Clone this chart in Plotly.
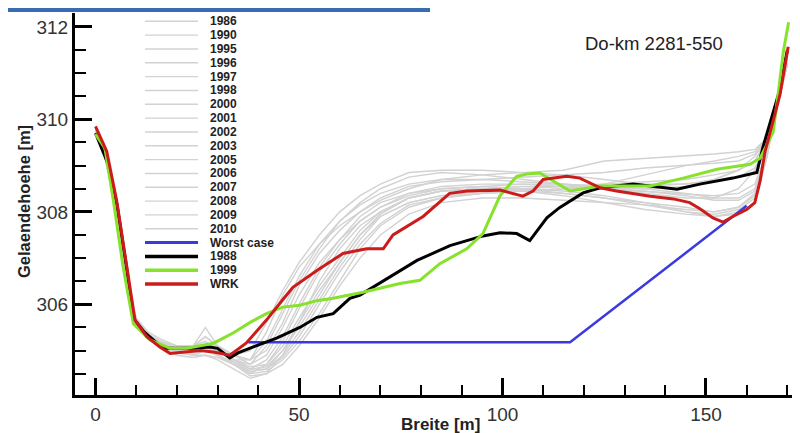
import plotly.graph_objects as go

# ---------------- data ----------------
GREY_X = [0, 2, 4, 6, 8, 10, 13, 16, 20, 24, 27, 30, 34, 38, 42, 46, 50, 55, 60, 65, 70, 77,
          85, 95, 105, 115, 125, 135, 145, 152, 158, 162, 165, 167, 170]

Y_1986 = [309.8, 309.4, 308.6, 307.5, 306.3, 305.6, 305.3, 305.15, 305.0, 305.05, 305.1, 305.0, 304.9, 305.0,
          305.6, 306.3, 306.9, 307.5, 308.0, 308.35, 308.6, 308.85, 308.9, 308.9, 308.85, 308.8, 308.7,
          308.6, 308.6, 308.7, 308.9, 309.1, 309.6, 310.3, 311.3]
Y_1990 = [309.7, 309.3, 308.5, 307.4, 306.2, 305.6, 305.35, 305.2, 305.0, 305.1, 305.5, 305.1, 304.8, 304.7,
          305.1, 305.8, 306.5, 307.2, 307.8, 308.2, 308.5, 308.75, 308.85, 308.8, 308.7, 308.6, 308.5,
          308.4, 308.3, 308.3, 308.5, 308.9, 309.5, 310.2, 311.2]
Y_1995 = [309.75, 309.35, 308.6, 307.5, 306.3, 305.65, 305.3, 305.15, 305.05, 305.0, 305.0, 304.9, 304.7, 304.5,
          304.7, 305.2, 305.9, 306.7, 307.3, 307.8, 308.1, 308.4, 308.55, 308.6, 308.6, 308.55, 308.5,
          308.5, 308.55, 308.7, 308.9, 309.2, 309.6, 310.2, 311.2]
Y_1996 = [309.8, 309.4, 308.7, 307.6, 306.4, 305.7, 305.35, 305.2, 305.0, 305.0, 305.1, 305.0, 304.8, 304.6,
          304.6, 304.9, 305.4, 306.1, 306.8, 307.4, 307.9, 308.2, 308.35, 308.4, 308.45, 308.5, 308.6,
          308.8, 309.0, 309.1, 309.2, 309.3, 309.6, 310.2, 311.2]
Y_1997 = [309.7, 309.3, 308.5, 307.4, 306.2, 305.6, 305.3, 305.2, 305.1, 305.1, 305.2, 305.0, 304.8, 304.8,
          305.4, 306.2, 306.8, 307.3, 307.7, 308.0, 308.25, 308.5, 308.7, 308.8, 308.85, 308.9, 309.1,
          309.15, 309.2, 309.25, 309.3, 309.35, 309.6, 310.2, 311.2]
Y_1998 = [309.75, 309.35, 308.6, 307.5, 306.3, 305.6, 305.25, 305.1, 305.0, 304.9, 304.9, 304.8, 304.6, 304.4,
          304.5, 304.9, 305.6, 306.5, 307.2, 307.7, 308.0, 308.3, 308.45, 308.5, 308.5, 308.4, 308.3,
          308.2, 308.1, 308.0, 308.1, 308.4, 309.3, 310.1, 311.2]
Y_2000 = [309.8, 309.4, 308.7, 307.6, 306.4, 305.65, 305.3, 305.15, 305.0, 305.05, 305.15, 305.1, 304.9, 304.7,
          304.9, 305.5, 306.2, 306.9, 307.4, 307.8, 308.1, 308.35, 308.5, 308.55, 308.5, 308.45, 308.35,
          308.2, 308.0, 307.9, 308.0, 308.2, 309.2, 310.1, 311.2]
Y_2001 = [309.7, 309.3, 308.55, 307.45, 306.25, 305.55, 305.25, 305.1, 304.95, 304.9, 305.0, 304.9, 304.7, 304.5,
          304.55, 304.8, 305.2, 305.8, 306.5, 307.2, 307.7, 308.1, 308.3, 308.4, 308.45, 308.4, 308.3,
          308.15, 308.0, 307.95, 308.05, 308.3, 309.3, 310.1, 311.2]
Y_2002 = [309.75, 309.35, 308.6, 307.5, 306.3, 305.65, 305.35, 305.2, 305.05, 305.1, 305.3, 305.1, 304.9, 304.8,
          305.2, 305.9, 306.6, 307.3, 307.8, 308.15, 308.4, 308.6, 308.7, 308.7, 308.75, 308.8, 308.85,
          308.95, 309.0, 309.05, 309.1, 309.25, 309.6, 310.2, 311.2]
Y_2003 = [309.8, 309.4, 308.65, 307.55, 306.35, 305.6, 305.25, 305.05, 304.9, 304.85, 304.9, 304.85, 304.7, 304.55,
          304.6, 305.0, 305.6, 306.3, 306.9, 307.5, 307.9, 308.2, 308.35, 308.45, 308.5, 308.55, 308.6,
          308.65, 308.7, 308.8, 308.9, 309.1, 309.5, 310.2, 311.2]
Y_2005 = [309.75, 309.35, 308.6, 307.5, 306.3, 305.6, 305.3, 305.15, 305.0, 305.0, 305.05, 305.0, 304.75, 304.6,
          304.8, 305.3, 306.0, 306.8, 307.4, 307.9, 308.2, 308.4, 308.5, 308.55, 308.6, 308.6, 308.55,
          308.5, 308.4, 308.3, 308.3, 308.5, 309.3, 310.1, 311.2]
Y_2006 = [309.7, 309.3, 308.55, 307.45, 306.3, 305.6, 305.3, 305.15, 305.05, 305.05, 305.1, 305.0, 304.8, 304.6,
          304.65, 305.0, 305.5, 306.2, 306.9, 307.5, 307.95, 308.3, 308.45, 308.5, 308.45, 308.35, 308.2,
          308.05, 307.95, 307.9, 307.95, 308.2, 309.2, 310.1, 311.2]
Y_2007 = [309.8, 309.35, 308.6, 307.5, 306.3, 305.55, 305.25, 305.1, 305.0, 304.95, 305.0, 304.9, 304.7, 304.45,
          304.5, 304.7, 305.1, 305.7, 306.4, 307.0, 307.5, 307.95, 308.2, 308.3, 308.3, 308.25, 308.2,
          308.15, 308.05, 308.0, 308.1, 308.35, 309.2, 310.1, 311.2]
Y_2008 = [309.75, 309.35, 308.65, 307.55, 306.35, 305.7, 305.4, 305.25, 305.1, 305.1, 305.3, 305.1, 304.9, 304.8,
          305.0, 305.6, 306.4, 307.1, 307.6, 308.0, 308.3, 308.55, 308.65, 308.7, 308.65, 308.6, 308.55,
          308.55, 308.6, 308.65, 308.75, 308.95, 309.4, 310.2, 311.2]
Y_2009 = [309.7, 309.3, 308.55, 307.45, 306.25, 305.55, 305.25, 305.1, 304.95, 304.95, 305.0, 304.9, 304.75, 304.55,
          304.6, 304.85, 305.3, 306.0, 306.7, 307.3, 307.75, 308.15, 308.3, 308.4, 308.45, 308.5, 308.5,
          308.45, 308.35, 308.25, 308.25, 308.45, 309.3, 310.1, 311.2]
Y_2010 = [309.75, 309.35, 308.6, 307.5, 306.3, 305.6, 305.3, 305.15, 305.0, 305.0, 305.1, 305.0, 304.8, 304.65,
          304.7, 305.1, 305.7, 306.4, 307.0, 307.6, 308.0, 308.3, 308.45, 308.5, 308.55, 308.55, 308.5,
          308.45, 308.4, 308.35, 308.4, 308.6, 309.3, 310.1, 311.2]

WORST_X = [37.5, 116.6, 160.0]
WORST_Y = [305.18, 305.18, 308.13]

B1988_X = [0, 1.1, 3, 5.3, 7.8, 9.3, 12, 16.6, 20, 24, 28.1, 30, 33, 35, 38.8, 44.5, 50.2, 54.4, 58.4,
           62.5, 65, 70.7, 79, 87.1, 95.2, 99.4, 103.5, 106.7, 110.9, 114, 119.8, 124, 132.1, 142.9,
           148.5, 156.6, 162.5, 164, 166, 168, 170]
B1988_Y = [309.7, 309.46, 309.05, 308.15, 306.7, 305.7, 305.4, 305.05, 305.05, 305.05, 305.08, 305.05,
           304.84, 304.95, 305.08, 305.27, 305.5, 305.72, 305.8, 306.13, 306.2, 306.5, 306.95, 307.27,
           307.48, 307.55, 307.53, 307.38, 307.87, 308.09, 308.41, 308.52, 308.6, 308.49, 308.6, 308.73,
           308.85, 309.4, 310.0, 310.6, 311.5]

G1999_X = [0, 2.3, 4.4, 6.8, 9.3, 13.4, 18.3, 22.5, 29, 33.8, 38, 42, 46, 50.2, 54.4, 58.4, 65.7,
           74.8, 79.7, 84.6, 91.2, 95.2, 99.4, 103.5, 106, 109.2, 113.4, 116.6, 124, 136.3, 144.4, 152.7,
           160.8, 163.3, 165, 166.5, 167.5, 169, 170.3]
G1999_Y = [309.68, 309.38, 308.24, 306.8, 305.58, 305.23, 305.05, 305.05, 305.16, 305.38, 305.61, 305.8,
           305.94, 305.98, 306.08, 306.13, 306.26, 306.45, 306.52, 306.88, 307.2, 307.53, 308.35, 308.77,
           308.82, 308.84, 308.62, 308.45, 308.56, 308.56, 308.73, 308.92, 309.03, 309.16, 309.46, 309.72,
           310.39, 311.46, 312.1]

WRK_X = [0, 2.75, 5.2, 7.7, 9.7, 12.6, 15.8, 18.3, 22, 25.7, 29, 33, 37, 42, 46, 48.5, 54.4, 60.8, 66.6,
         70.7, 73.1, 80.5, 87, 91.3, 99.4, 102.6, 105, 107.5, 110, 115.8, 119, 124, 128, 136.3, 142, 146,
         148.6, 151.7, 154.2, 156.6, 160, 162, 163.3, 164.5, 166.5, 168.2, 170.2]
WRK_Y = [309.85, 309.31, 308.24, 306.8, 305.66, 305.3, 305.08, 304.94, 304.97, 305.0, 304.97, 304.9,
         305.16, 305.66, 306.1, 306.37, 306.73, 307.1, 307.2, 307.2, 307.5, 307.9, 308.4, 308.45, 308.47,
         308.4, 308.34, 308.45, 308.7, 308.77, 308.73, 308.52, 308.45, 308.34, 308.28, 308.2, 308.06,
         307.87, 307.78, 307.9, 308.05, 308.2, 308.67, 309.3, 310.0, 310.54, 311.57]

GREY_NAMES = ["1986", "1990", "1995", "1996", "1997", "1998", "2000", "2001", "2002", "2003",
              "2005", "2006", "2007", "2008", "2009", "2010"]
GREY_SERIES = [Y_1986, Y_1990, Y_1995, Y_1996, Y_1997, Y_1998, Y_2000, Y_2001, Y_2002, Y_2003,
               Y_2005, Y_2006, Y_2007, Y_2008, Y_2009, Y_2010]

# ---------------- styling ----------------
FONT = "Liberation Sans, Arial, sans-serif"
GREY = "#d2d2d2"
BLUE = "#3a3ae0"
BLACK = "#000000"
GREEN = "#86e22a"
RED = "#cc1b1b"

# the page body has an 8px margin, so the figure is sized/positioned to compensate
OFF = 8
WIN_W, WIN_H = 800, 433
W, H = WIN_W - OFF, WIN_H - OFF
# plot area in window pixels: left 75, right 800, top 13, bottom 395
ML, MR, MT, MB = 75 - OFF, 0, 13 - OFF, WIN_H - 395
PW, PH = W - ML - MR, H - MT - MB


def px2paper(px, py):
    """window pixel -> paper coordinates"""
    return (px - OFF - ML) / PW, (H - MB - (py - OFF)) / PH


fig = go.Figure()

for name, ys in zip(GREY_NAMES, GREY_SERIES):
    fig.add_trace(go.Scatter(x=GREY_X, y=ys, mode="lines", name=name,
                             line=dict(color=GREY, width=1.4), showlegend=False))

fig.add_trace(go.Scatter(x=WORST_X, y=WORST_Y, mode="lines", name="Worst case",
                         line=dict(color=BLUE, width=2.5), showlegend=False))
fig.add_trace(go.Scatter(x=B1988_X, y=B1988_Y, mode="lines", name="1988",
                         line=dict(color=BLACK, width=3), showlegend=False))
fig.add_trace(go.Scatter(x=G1999_X, y=G1999_Y, mode="lines", name="1999",
                         line=dict(color=GREEN, width=3), showlegend=False))
fig.add_trace(go.Scatter(x=WRK_X, y=WRK_Y, mode="lines", name="WRK",
                         line=dict(color=RED, width=3), showlegend=False))

# ---------------- custom compact legend ----------------
legend_entries = [(n, GREY, 1.4) for n in GREY_NAMES] + [
    ("Worst case", BLUE, 3), ("1988", BLACK, 3.5), ("1999", GREEN, 3.5), ("WRK", RED, 3.5)]
shapes = []
annotations = []
for i, (name, col, wd) in enumerate(legend_entries):
    py = 21.3 + 13.83 * i
    x0, yy = px2paper(145, py)
    x1, _ = px2paper(198, py)
    shapes.append(dict(type="line", xref="paper", yref="paper", x0=x0, x1=x1, y0=yy, y1=yy,
                       line=dict(color=col, width=wd)))
    tx, _ = px2paper(208, py)
    annotations.append(dict(text="<b>" + name + "</b>", xref="paper", yref="paper", x=tx, y=yy,
                            xanchor="left", yanchor="middle", showarrow=False,
                            font=dict(family=FONT, size=12, color="#222222")))

# top blue band (at the very top of the figure)
bx0, by0 = px2paper(OFF, OFF + 4)
bx1, by1 = px2paper(430, OFF)
shapes.append(dict(type="rect", xref="paper", yref="paper", x0=bx0, x1=bx1, y0=by0, y1=by1,
                   line=dict(width=0), fillcolor="#3a6cb4"))

# station label
ax, ay = px2paper(654, 43)
annotations.append(dict(text="Do-km 2281-550", xref="paper", yref="paper", x=ax, y=ay,
                        xanchor="center", yanchor="middle", showarrow=False,
                        font=dict(family=FONT, size=18.5, color="#222222")))
# axis titles
tx, ty = px2paper(440, 424)
annotations.append(dict(text="<b>Breite [m]</b>", xref="paper", yref="paper", x=tx, y=ty,
                        xanchor="center", yanchor="middle", showarrow=False,
                        font=dict(family=FONT, size=17, color="#222222")))
tx, ty = px2paper(24, 202)
annotations.append(dict(text="<b>Gelaendehoehe [m]</b>", xref="paper", yref="paper", x=tx, y=ty,
                        xanchor="center", yanchor="middle", showarrow=False, textangle=-90,
                        font=dict(family=FONT, size=16.5, color="#222222")))

axis_common = dict(showline=True, linecolor="black", linewidth=3, showgrid=False, zeroline=False,
                   automargin=False,
                   ticks="inside", ticklen=17, tickwidth=3, tickcolor="black",
                   tickfont=dict(family=FONT, size=19, color="#333333"))

fig.update_layout(
    width=W, height=H,
    margin=dict(l=ML, r=MR, t=MT, b=MB, autoexpand=False),
    paper_bgcolor="white", plot_bgcolor="white",
    showlegend=False,
    xaxis=dict(range=[-5.04, 173.1], tickmode="linear", tick0=0, dtick=50,
               minor=dict(dtick=10, tick0=0, ticks="inside", ticklen=10, tickwidth=1.5, tickcolor="black"),
               **axis_common),
    yaxis=dict(range=[304.04, 312.3], tickmode="linear", tick0=306, dtick=2,
               minor=dict(dtick=0.5, tick0=306, ticks="inside", ticklen=11, tickwidth=1.5, tickcolor="black"),
               **axis_common),
    shapes=shapes,
    annotations=annotations,
)

fig.write_html("out.html")
